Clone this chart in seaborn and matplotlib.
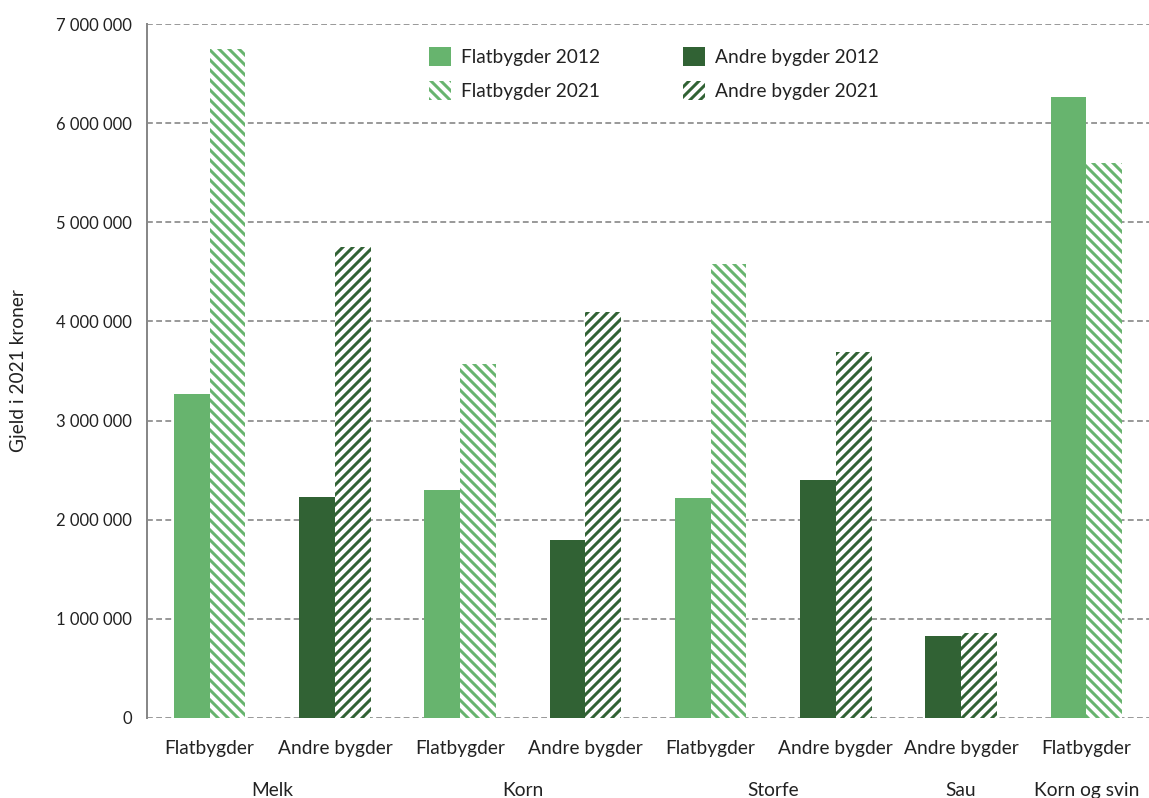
import numpy as np
import pandas as pd
import matplotlib
matplotlib.use("Agg")
import matplotlib.pyplot as plt
import matplotlib.ticker as mticker
from matplotlib.patches import Patch
import seaborn as sns

# data (kroner)
groups = ["Melk", "Melk", "Korn", "Korn", "Storfe", "Storfe", "Sau", "Korn og svin"]
areas = ["Flatbygder", "Andre bygder", "Flatbygder", "Andre bygder",
         "Flatbygder", "Andre bygder", "Andre bygder", "Flatbygder"]
debt_2012 = [3270000, 2230000, 2300000, 1800000, 2220000, 2400000, 830000, 6260000]
debt_2021 = [6750000, 4750000, 3570000, 4100000, 4580000, 3690000, 860000, 5600000]
years = ["2012", "2021"]
y_ticks = [0, 1000000, 2000000, 3000000, 4000000, 5000000, 6000000, 7000000]

light = "#67b46e"
dark = "#316234"
flat_hatch = "\\\\\\\\"
andre_hatch = "////"

keys = [g + " " + a for g, a in zip(groups, areas)]
df = pd.DataFrame({
    "key": keys * 2,
    "area": areas * 2,
    "year": ["2012"] * len(keys) + ["2021"] * len(keys),
    "debt": debt_2012 + debt_2021,
})

sns.set_style("white")
plt.rcParams["font.family"] = ["Lato", "DejaVu Sans"]
plt.rcParams["hatch.linewidth"] = 1.8

fig = plt.figure(figsize=(1149 / 120, 798 / 120), dpi=120)
ax = fig.add_axes([147 / 1149, 1 - 718 / 798, 1 - 147 / 1149, (718 - 24) / 798])

sns.barplot(data=df, x="key", y="debt", hue="year", order=keys, hue_order=years,
            width=0.57, saturation=1, legend=False, ax=ax, errorbar=None)

# recolour each bar: solid for 2012, hatched for 2021, shade by area type
for yi, cont in enumerate(ax.containers):
    for j, bar in enumerate(cont):
        col = light if areas[j] == "Flatbygder" else dark
        bar.set_linewidth(0)
        if yi == 0:
            bar.set_facecolor(col)
            bar.set_edgecolor(col)
        else:
            bar.set_facecolor("white")
            bar.set_edgecolor(col)
            bar.set_hatch(flat_hatch if areas[j] == "Flatbygder" else andre_hatch)

ax.set_ylim(0, 7000000)
ax.set_xlim(-0.5, len(keys) - 0.5)
ax.set_yticks(y_ticks)
ax.yaxis.set_major_formatter(mticker.FuncFormatter(lambda v, p: f"{int(v):,}".replace(",", " ")))
ax.yaxis.grid(True, color="#888888", linestyle=(0, (3.5, 2)), linewidth=1.0)
ax.set_axisbelow(True)
for s in ["top", "right", "bottom"]:
    ax.spines[s].set_visible(False)
ax.spines["left"].set_color("#888888")
ax.spines["left"].set_linewidth(1.2)
ax.tick_params(axis="y", length=4.2, width=1.0, color="#888888", pad=5, labelsize=10, labelcolor="#222222")
ax.tick_params(axis="x", length=0, pad=13, labelsize=11.5, labelcolor="#222222")
ax.set_xticks(range(len(keys)))
ax.set_xticklabels(areas)
ax.set_xlabel("")
ax.set_ylabel("Gjeld i 2021 kroner", fontsize=11.5, color="#222222", labelpad=17)

# group labels under the sub labels
group_pos = {}
for i, g in enumerate(groups):
    group_pos.setdefault(g, []).append(i)
trans = matplotlib.transforms.blended_transform_factory(ax.transData, ax.transAxes)
for g, idx in group_pos.items():
    ax.text(np.mean(idx), -0.104, g, transform=trans, ha="center", va="center",
            fontsize=11.5, color="#222222")

handles = [
    Patch(facecolor=light, edgecolor=light, linewidth=0, label="Flatbygder 2012"),
    Patch(facecolor="white", edgecolor=light, hatch=flat_hatch, linewidth=0, label="Flatbygder 2021"),
    Patch(facecolor=dark, edgecolor=dark, linewidth=0, label="Andre bygder 2012"),
    Patch(facecolor="white", edgecolor=dark, hatch=andre_hatch, linewidth=0, label="Andre bygder 2021"),
]
fig.legend(handles=handles, ncol=2, frameon=False, loc="upper left",
           bbox_to_anchor=(419 / 1149, 1 - 37 / 798), fontsize=11.5,
           handlelength=1.15, handleheight=1.15, handletextpad=0.55,
           labelspacing=0.8, columnspacing=4.3, borderpad=0, labelcolor="#222222")

fig.savefig("out.png", dpi=120)
